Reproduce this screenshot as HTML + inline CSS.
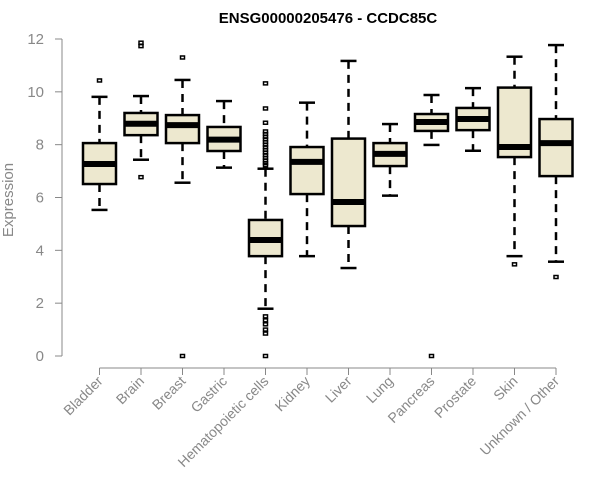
<!DOCTYPE html>
<html><head><meta charset="utf-8"><style>
body{margin:0;background:#fff;}
svg{display:block;font-family:"Liberation Sans",Arial,sans-serif;}
</style></head><body>
<svg id="chart" width="600" height="500">
<text x="328" y="23" text-anchor="middle" font-weight="bold" font-size="15" fill="#000">ENSG00000205476 - CCDC85C</text>
<text transform="translate(13,200) rotate(-90)" text-anchor="middle" font-size="15" fill="#888">Expression</text>
</svg>
<script>
const categories=["Bladder","Brain","Breast","Gastric","Hematopoietic cells","Kidney","Liver","Lung","Pancreas","Prostate","Skin","Unknown / Other"];
const whiskerLow=[5.53,7.43,6.56,7.13,1.79,3.78,3.33,6.07,7.99,7.77,3.78,3.57];
const q1=[6.51,8.36,8.06,7.76,3.78,6.13,4.92,7.19,8.52,8.55,7.53,6.81];
const medians=[7.27,8.79,8.74,8.19,4.39,7.35,5.83,7.65,8.86,8.97,7.91,8.06];
const q3=[8.06,9.2,9.12,8.67,5.15,7.91,8.23,8.06,9.16,9.39,10.16,8.97];
const whiskerHigh=[9.81,9.84,10.45,9.65,7.09,9.59,11.17,8.78,9.88,10.14,11.33,11.77];
const outliers=[[10.43],[6.77,11.73,11.86],[11.3,0],[],[10.32,9.37,8.83,8.5,8.4,8.3,8.2,8.1,8.0,7.9,7.8,7.7,7.6,7.5,7.4,7.3,7.22,1.5,1.35,1.2,1.0,0.85,0],[],[],[],[0],[],[3.47],[2.99]];
const yTicks=[0,2,4,6,8,10,12];
const NS="http://www.w3.org/2000/svg";
const svg=document.getElementById("chart");
const y=v=>356-v*(317/12);
const x=i=>99.5+i*41.5;
function mk(t,a,p){const e=document.createElementNS(NS,t);for(const k in a)e.setAttribute(k,a[k]);(p||svg).appendChild(e);return e;}
// y axis
let ya=mk("line",{x1:62,x2:62,y1:y(0),y2:y(12),stroke:"#888","stroke-width":1});


yTicks.forEach(t=>{
 let l=mk("line",{x1:55,x2:62,y1:y(t),y2:y(t),stroke:"#888"});
 
 
 let tx=mk("text",{x:44,y:y(t)+5,"text-anchor":"end","font-size":15,fill:"#888"});
 tx.textContent=t;
 
 
});
// x axis
let xa=mk("line",{x1:x(0),x2:x(categories.length-1),y1:368,y2:368,stroke:"#888"});


categories.forEach((c,i)=>{
 const cx=x(i);
 let tk=mk("line",{x1:cx,x2:cx,y1:368,y2:375,stroke:"#888"});
 
 
 let lb=mk("text",{transform:`translate(${cx+4},${382}) rotate(-45)`,"text-anchor":"end","font-size":14,fill:"#888"});
 lb.textContent=c;
 
 
 const g=mk("g",{});
 
 
 mk("line",{x1:cx,x2:cx,y1:y(whiskerHigh[i]),y2:y(q3[i]),stroke:"#000","stroke-width":2.5,"stroke-dasharray":"8,6"},g);
 mk("line",{x1:cx,x2:cx,y1:y(q1[i]),y2:y(whiskerLow[i]),stroke:"#000","stroke-width":2.5,"stroke-dasharray":"8,6"},g);
 mk("line",{x1:cx-8,x2:cx+8,y1:y(whiskerHigh[i]),y2:y(whiskerHigh[i]),stroke:"#000","stroke-width":2.5},g);
 mk("line",{x1:cx-8,x2:cx+8,y1:y(whiskerLow[i]),y2:y(whiskerLow[i]),stroke:"#000","stroke-width":2.5},g);
 mk("rect",{x:cx-16.5,y:y(q3[i]),width:33,height:y(q1[i])-y(q3[i]),fill:"#ede8cf",stroke:"#000","stroke-width":2.5},g);
 mk("line",{x1:cx-16.5,x2:cx+16.5,y1:y(medians[i]),y2:y(medians[i]),stroke:"#000","stroke-width":6},g);
 outliers[i].forEach(v=>{
  let o=mk("rect",{x:cx-2,y:y(v)-1.5,width:4,height:3,fill:"none",stroke:"#000","stroke-width":1.5},g);
  
  
 });
});
</script>
</body></html>
